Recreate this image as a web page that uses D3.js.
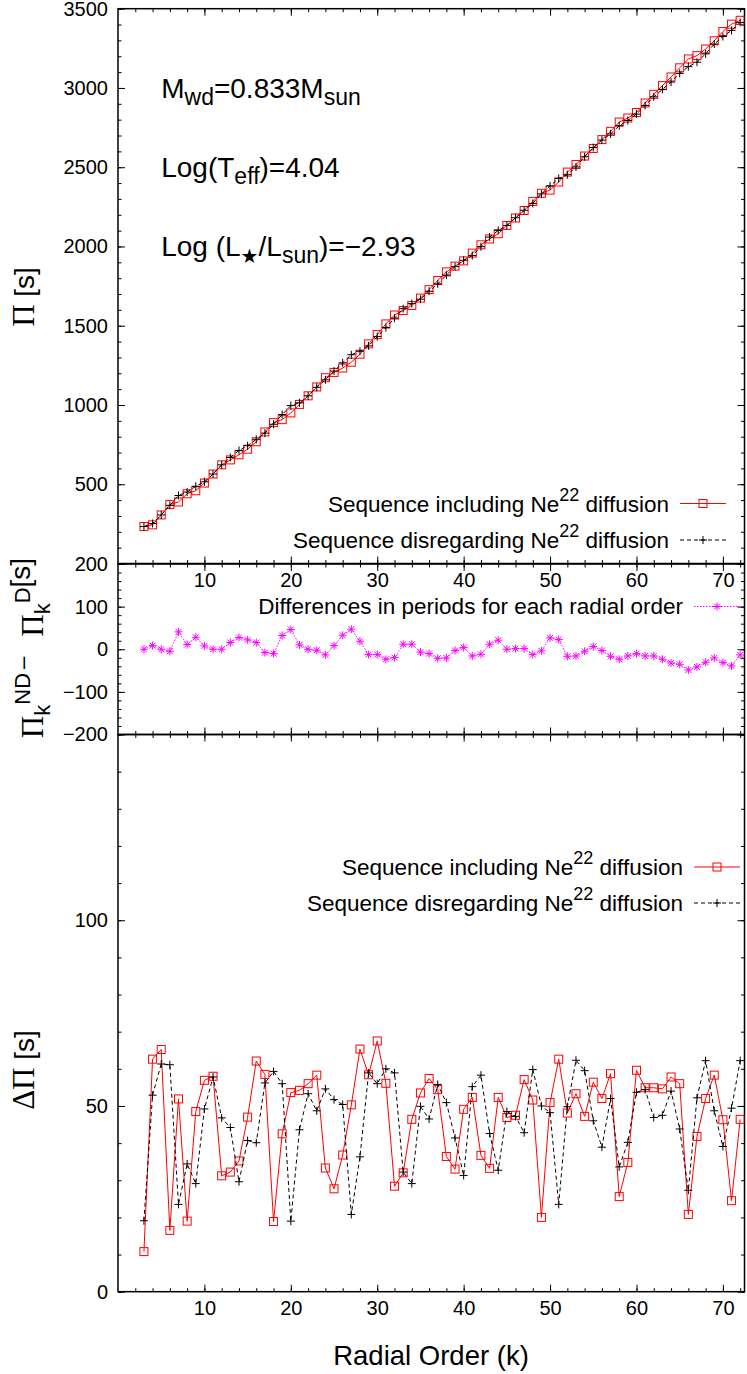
<!DOCTYPE html>
<html><head><meta charset="utf-8">
<script src="https://cdn.jsdelivr.net/npm/d3@7"></script>
<style>
body{margin:0;background:#fff}
svg{display:block}
</style>
</head><body>
<svg id="chart" width="747" height="1374"></svg>
<script>
// ---------------- DATA ----------------
const radialOrder = [3,4,5,6,7,8,9,10,11,12,13,14,15,16,17,18,19,20,21,22,23,24,25,26,27,28,29,30,31,32,33,34,35,36,37,38,39,40,41,42,43,44,45,46,47,48,49,50,51,52,53,54,55,56,57,58,59,60,61,62,63,64,65,66,67,68,69,70,71,72];

// Periods (s), sequence including Ne22 diffusion
const periodsDiff = [
 233.0, 243.8, 306.4, 371.6, 388.1, 440.0, 459.0, 507.5, 564.4, 622.4,
 653.6, 685.8, 721.0, 768.0, 830.1, 888.6, 907.5, 950.0, 1003.6, 1057.8,
 1113.8, 1172.1, 1205.4, 1233.1, 1269.9, 1320.2, 1385.5, 1443.9, 1511.4, 1567.5,
 1595.9, 1627.9, 1674.3, 1727.8, 1785.2, 1839.6, 1876.0, 1909.0, 1958.1, 2010.4,
 2047.1, 2080.3, 2132.6, 2179.5, 2227.0, 2284.1, 2335.7, 2355.7, 2406.6, 2469.2,
 2517.3, 2570.6, 2617.8, 2674.2, 2726.2, 2784.9, 2810.5, 2845.3, 2904.9, 2959.8,
 3014.7, 3069.3, 3127.1, 3183.1, 3203.9, 3245.7, 3297.7, 3356.0, 3402.3, 3426.8];

// Periods (s), sequence disregarding Ne22 diffusion
const periodsNoDiff = [
 233.0, 252.4, 306.4, 366.9, 428.9, 451.0, 487.2, 515.3, 564.4, 622.4,
 669.3, 713.3, 743.0, 783.7, 822.3, 878.4, 939.7, 996.3, 1013.8, 1057.8,
 1111.4, 1158.8, 1214.0, 1266.0, 1317.0, 1339.0, 1373.0, 1431.4, 1487.9, 1547.9,
 1607.7, 1639.7, 1667.6, 1717.6, 1764.0, 1819.2, 1872.9, 1912.9, 1942.4, 1998.6,
 2058.9, 2101.5, 2132.6, 2181.1, 2228.6, 2271.6, 2331.8, 2382.4, 2429.3, 2452.7,
 2501.6, 2565.9, 2624.1, 2671.1, 2709.7, 2761.4, 2794.8, 2835.1, 2889.2, 2944.1,
 2991.2, 3037.1, 3091.8, 3134.5, 3162.3, 3215.1, 3277.3, 3324.6, 3363.1, 3413.5];

// Differences Pi_k^ND - Pi_k^D (s)
const periodDifference = [
 0, 8.6, 0, -4.7, 40.8, 11.0, 28.2, 7.8, 0, 0,
 15.7, 27.5, 22.0, 15.7, -7.8, -10.2, 32.2, 46.3, 10.2, 0,
 -2.4, -13.3, 8.6, 32.9, 47.1, 18.8, -12.5, -12.5, -23.5, -19.6,
 11.8, 11.8, -6.7, -10.2, -21.2, -20.4, -3.1, 3.9, -15.7, -11.8,
 11.8, 21.2, 0, 1.6, 1.6, -12.5, -3.9, 26.7, 22.7, -16.5,
 -15.7, -4.7, 6.3, -3.1, -16.5, -23.5, -15.7, -10.2, -15.7, -15.7,
 -23.5, -32.2, -35.3, -48.6, -41.6, -30.6, -20.4, -31.4, -39.2, -13.3];

// Period spacings (s), including Ne22 diffusion
const spacingDiff = [
 10.8, 62.6, 65.2, 16.5, 51.9, 19.0, 48.5, 56.9, 58.0, 31.2,
 32.2, 35.2, 47.0, 62.1, 58.5, 18.9, 42.5, 53.6, 54.2, 56.0,
 58.3, 33.3, 27.7, 36.8, 50.3, 65.3, 58.4, 67.5, 56.1, 28.4,
 32.0, 46.4, 53.5, 57.4, 54.4, 36.4, 33.0, 49.1, 52.3, 36.7,
 33.2, 52.3, 46.9, 47.5, 57.1, 51.6, 20.0, 50.9, 62.6, 48.1,
 53.3, 47.2, 56.4, 52.0, 58.7, 25.6, 34.8, 59.6, 54.9, 54.9,
 54.6, 57.8, 56.0, 20.8, 41.8, 52.0, 58.3, 46.3, 24.5, 46.4];

// Period spacings (s), disregarding Ne22 diffusion
const spacingNoDiff = [
 19.1, 52.9, 61.3, 61.1, 23.5, 34.4, 29.1, 49.2, 57.8, 46.8,
 44.2, 29.6, 40.7, 40.1, 56.2, 59.3, 56.0, 19.0, 43.6, 53.3,
 48.7, 54.6, 51.7, 50.4, 20.8, 36.3, 58.9, 56.0, 60.0, 58.9,
 32.2, 29.1, 49.9, 46.5, 55.8, 50.9, 41.4, 31.3, 55.2, 58.3,
 42.6, 32.7, 48.5, 47.2, 42.8, 59.8, 50.0, 48.2, 23.5, 49.8,
 62.3, 59.5, 46.0, 38.9, 52.0, 33.6, 40.2, 53.7, 54.4, 46.9,
 47.5, 54.0, 43.8, 27.3, 52.2, 62.2, 48.7, 39.1, 49.4, 62.2];

const xTickLabels = [10, 20, 30, 40, 50, 60, 70];
const yTicksTop = [500, 1000, 1500, 2000, 2500, 3000, 3500];
const yTicksMid = [-200, -100, 0, 100, 200];
const yTicksBot = [0, 50, 100];

// ---------------- LAYOUT ----------------
const FONT = '"Liberation Sans", Arial, Helvetica, sans-serif';
const SERIF = '"Liberation Serif", "DejaVu Serif", serif';
const svg = d3.select("#chart");
svg.append("rect").attr("width", 747).attr("height", 1374).attr("fill", "#fff");

const x = d3.scaleLinear().domain([0, 72.5]).range([118, 744.5]);
const yTop = d3.scaleLinear().domain([0, 3500]).range([563.5, 8.7]);
const yMid = d3.scaleLinear().domain([-200, 200]).range([734.5, 564]);
const yBot = d3.scaleLinear().domain([0, 150]).range([1291.7, 734.5]);

const xMinor = d3.range(2, 72.5, 2);
const fmt = d => d < 0 ? "\u2212" + (-d) : String(d);

function styleAxis(sel) {
  sel.select(".domain").remove();
  sel.attr("font-family", FONT).attr("font-size", 20);
  sel.selectAll("line").attr("stroke", "#000").attr("stroke-width", 1);
  sel.selectAll("text").attr("fill", "#000");
}

function drawFrame(ys, major, minorStep, showX, id) {
  const [yb, yt] = ys.range();
  const [xl, xr] = x.range();
  const d = ys.domain();
  const minor = d3.range(d[0], d[1] + 0.001, minorStep);
  const g = svg.append("g");
  g.append("g").attr("transform", `translate(${xl},0)`)
    .call(d3.axisLeft(ys).tickValues(minor).tickSize(-3.5).tickFormat("")).call(styleAxis);
  g.append("g").attr("transform", `translate(${xl},0)`)
    .call(d3.axisLeft(ys).tickValues(major).tickSize(-7).tickPadding(10).tickFormat(fmt)).call(styleAxis);
  g.append("g").attr("transform", `translate(${xr},0)`)
    .call(d3.axisRight(ys).tickValues(minor).tickSize(-3.5).tickFormat("")).call(styleAxis);
  g.append("g").attr("transform", `translate(${xr},0)`)
    .call(d3.axisRight(ys).tickValues(major).tickSize(-7).tickFormat("")).call(styleAxis);
  g.append("g").attr("transform", `translate(0,${yb})`)
    .call(d3.axisBottom(x).tickValues(xMinor).tickSize(-3.5).tickFormat("")).call(styleAxis);
  g.append("g").attr("transform", `translate(0,${yb})`)
    .call(d3.axisBottom(x).tickValues(xTickLabels).tickSize(-7).tickPadding(9.5)
      .tickFormat(showX ? fmt : "")).call(styleAxis);
  g.append("g").attr("transform", `translate(0,${yt})`)
    .call(d3.axisTop(x).tickValues(xMinor).tickSize(-3.5).tickFormat("")).call(styleAxis);
  g.append("g").attr("transform", `translate(0,${yt})`)
    .call(d3.axisTop(x).tickValues(xTickLabels).tickSize(-7).tickFormat("")).call(styleAxis);
  g.append("rect").attr("x", xl).attr("y", yt).attr("width", xr - xl).attr("height", yb - yt)
    .attr("fill", "none").attr("stroke", "#000").attr("stroke-width", 1.5);
  svg.append("clipPath").attr("id", id).append("rect")
    .attr("x", xl).attr("y", yt).attr("width", xr - xl).attr("height", yb - yt);
  return svg.append("g").attr("clip-path", `url(#${id})`);
}

const plusPath = "M-4,0H4M0,-4V4";
const starPath = "M-4,0H4M0,-4V4M-3,-3L3,3M-3,3L3,-3";

function series(g, ys, vals, color, dash, marker, lw) {
  const pts = radialOrder.map((k, i) => [k, vals[i]]);
  g.append("path").datum(pts)
    .attr("d", d3.line().x(d => x(d[0])).y(d => ys(d[1])))
    .attr("fill", "none").attr("stroke", color).attr("stroke-width", lw)
    .attr("stroke-dasharray", dash);
  if (marker === "square") {
    g.append("g").selectAll("rect").data(pts).join("rect")
      .attr("x", d => x(d[0]) - 4).attr("y", d => ys(d[1]) - 4)
      .attr("width", 8).attr("height", 8)
      .attr("fill", "none").attr("stroke", color).attr("stroke-width", 1);
  } else {
    g.append("g").selectAll("path").data(pts).join("path")
      .attr("transform", d => `translate(${x(d[0])},${ys(d[1])})`)
      .attr("d", marker === "plus" ? plusPath : starPath)
      .attr("fill", "none").attr("stroke", color).attr("stroke-width", 1);
  }
}

const RED = "#ff0000", BLK = "#000000", MAG = "#ff00ff";
const DASH_BLK = "4,3", DOT_MAG = "1.5,1.5";

// ---------------- PANELS ----------------
const gTop = drawFrame(yTop, yTicksTop, 100, true, "clipTop");
series(gTop, yTop, periodsDiff, RED, null, "square", 1);
series(gTop, yTop, periodsNoDiff, BLK, DASH_BLK, "plus", 1);

const gMid = drawFrame(yMid, yTicksMid, 20, false, "clipMid");
series(gMid, yMid, periodDifference, MAG, DOT_MAG, "star", 1);

const gBot = drawFrame(yBot, yTicksBot, 10, true, "clipBot");
series(gBot, yBot, spacingDiff, RED, null, "square", 1);
series(gBot, yBot, spacingNoDiff, BLK, DASH_BLK, "plus", 1);

// ---------------- LEGENDS ----------------
function legendEntry(textRight, baseline, sx0, sx1, lineY, color, dash, marker, withSup, label) {
  const t = svg.append("text").attr("x", textRight).attr("y", baseline)
    .attr("text-anchor", "end").attr("font-family", FONT).attr("font-size", 22.5).attr("fill", "#000");
  if (withSup) {
    t.append("tspan").text(label[0]);
    t.append("tspan").attr("dy", -11).attr("font-size", 18).text("22");
    t.append("tspan").attr("dy", 11).text(label[1]);
  } else {
    t.text(label[0]);
  }
  svg.append("line").attr("x1", sx0).attr("x2", sx1).attr("y1", lineY).attr("y2", lineY)
    .attr("stroke", color).attr("stroke-width", 1).attr("stroke-dasharray", dash);
  const cx = (sx0 + sx1) / 2;
  if (marker === "square") {
    svg.append("rect").attr("x", cx - 4).attr("y", lineY - 4).attr("width", 8).attr("height", 8)
      .attr("fill", "none").attr("stroke", color);
  } else {
    svg.append("path").attr("transform", `translate(${cx},${lineY})`)
      .attr("d", marker === "plus" ? plusPath : starPath).attr("fill", "none").attr("stroke", color);
  }
}
legendEntry(669, 512, 680, 726, 503.5, RED, null, "square", true, ["Sequence including Ne", " diffusion"]);
legendEntry(669, 548, 680, 726, 540, BLK, DASH_BLK, "plus", true, ["Sequence disregarding Ne", " diffusion"]);
legendEntry(683, 614, 694, 740, 606.5, MAG, DOT_MAG, "star", false, ["Differences in periods for each radial order"]);
legendEntry(683, 875, 694, 740, 867, RED, null, "square", true, ["Sequence including Ne", " diffusion"]);
legendEntry(683, 911, 694, 740, 903, BLK, DASH_BLK, "plus", true, ["Sequence disregarding Ne", " diffusion"]);

// ---------------- ANNOTATIONS ----------------
function annot(yVal, parts) {
  const t = svg.append("text").attr("x", x(5)).attr("y", yTop(yVal) + 10)
    .attr("font-family", FONT).attr("font-size", 28).attr("fill", "#000");
  parts.forEach(p => {
    const s = t.append("tspan").text(p.t);
    if (p.dy) s.attr("dy", p.dy);
    if (p.fs) s.attr("font-size", p.fs);
    if (p.ff) s.attr("font-family", p.ff);
  });
}
annot(3000, [{t: "M"}, {t: "wd", dy: 7, fs: 23}, {t: "=0.833M", dy: -7}, {t: "sun", dy: 7, fs: 23}]);
annot(2500, [{t: "Log(T"}, {t: "eff", dy: 7, fs: 23}, {t: ")=4.04", dy: -7}]);
annot(2000, [{t: "Log (L"}, {t: "\u2605", dy: 7, fs: 20, ff: '"DejaVu Sans", sans-serif'},
  {t: "/L", dy: -7}, {t: "sun", dy: 7, fs: 23}, {t: ")=\u22122.93", dy: -7}]);

// ---------------- AXIS TITLES ----------------
svg.append("text").attr("x", 431).attr("y", 1365).attr("text-anchor", "middle")
  .attr("font-family", FONT).attr("font-size", 27.5).attr("fill", "#000").text("Radial Order (k)");

const tTop = svg.append("text").attr("transform", "translate(34,297) rotate(-90)")
  .attr("text-anchor", "middle").attr("font-family", FONT).attr("font-size", 28).attr("fill", "#000");
tTop.append("tspan").attr("font-family", SERIF).attr("font-size", 31).text("\u03A0");
tTop.append("tspan").text(" [s]");

const tBot = svg.append("text").attr("transform", "translate(34,1070) rotate(-90)")
  .attr("text-anchor", "middle").attr("font-family", FONT).attr("font-size", 28).attr("fill", "#000");
tBot.append("tspan").attr("font-family", SERIF).attr("font-size", 31).text("\u0394\u03A0");
tBot.append("tspan").text(" [s]");

const tMid = svg.append("text").attr("transform", "translate(43,648) rotate(-90)")
  .attr("text-anchor", "middle").attr("font-family", FONT).attr("font-size", 28).attr("fill", "#000");
tMid.append("tspan").attr("font-family", SERIF).attr("font-size", 31).text("\u03A0");
tMid.append("tspan").attr("dy", 7).attr("font-size", 22).text("k");
tMid.append("tspan").attr("dy", -20).attr("font-size", 22).text("ND");
tMid.append("tspan").attr("dx", 4).attr("font-size", 22).text("\u2013");
tMid.append("tspan").attr("dy", 13).attr("dx", 20).attr("font-family", SERIF).attr("font-size", 31).text("\u03A0");
tMid.append("tspan").attr("dy", 7).attr("font-size", 22).text("k");
tMid.append("tspan").attr("dy", -20).attr("font-size", 22).text("D");
tMid.append("tspan").text("[s]");
</script>
</body></html>
